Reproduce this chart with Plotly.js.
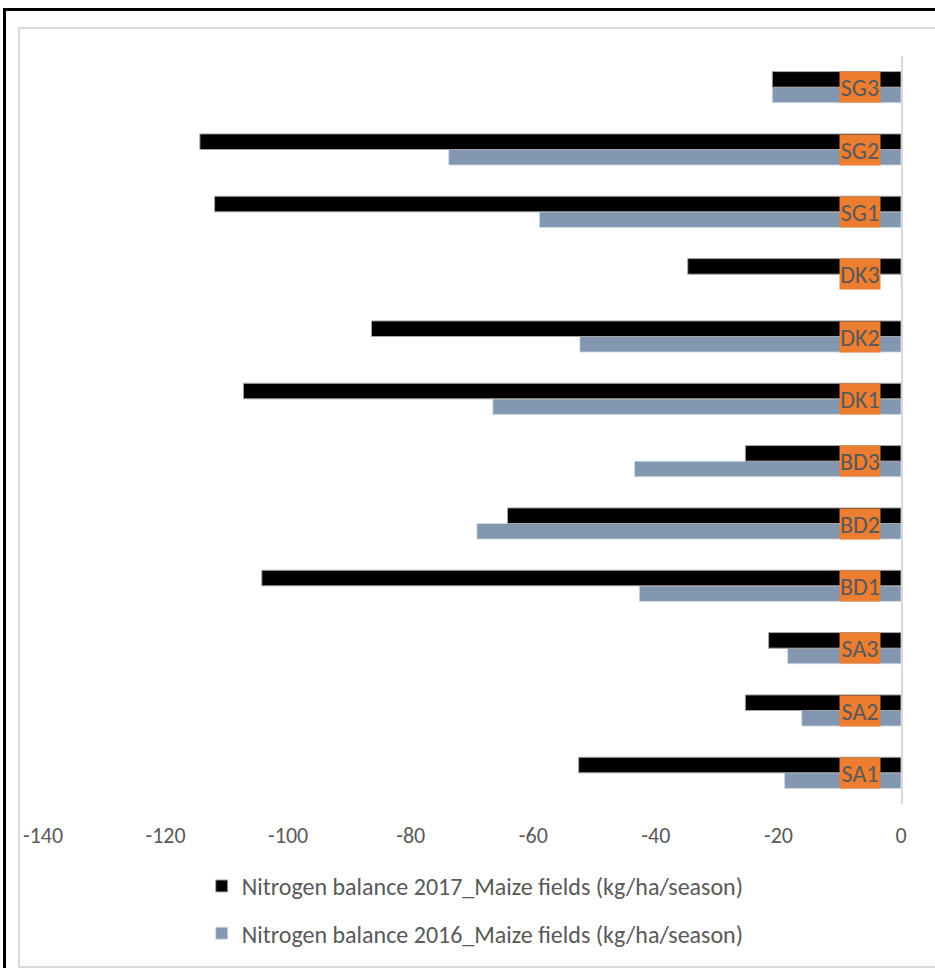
<!DOCTYPE html>
<html>
<head>
<meta charset="utf-8">
<script src="https://cdn.plot.ly/plotly-3.0.1.min.js"></script>
<style>
  html, body { margin: 0; padding: 0; background: #ffffff; overflow: hidden; }
  #outer { position: absolute; left: 3px; top: 8px; width: 1000px; height: 1000px; border: 3px solid #000; box-sizing: border-box; }
  #inner { position: absolute; left: 18px; top: 27px; width: 1000px; height: 941px; border: 2px solid #d9d9d9; box-sizing: border-box; }
  #chart { position: absolute; left: 0; top: 0; width: 935px; height: 968px; }
</style>
</head>
<body>
<div id="outer"></div>
<div id="inner"></div>
<div id="chart"></div>
<script>
const categories = ["SA1", "SA2", "SA3", "BD1", "BD2", "BD3", "DK1", "DK2", "DK3", "SG1", "SG2", "SG3"];
const balance2017 = [-52.6, -25.4, -21.6, -104.3, -64.2, -25.4, -107.3, -86.4, -34.8, -112.0, -114.4, -21.0];
const balance2016 = [-19.0, -16.2, -18.5, -42.7, -69.2, -43.5, -66.6, -52.4, 0, -59.0, -73.8, -21.0];
const seriesNames = ["Nitrogen balance 2017_Maize fields (kg/ha/season)", "Nitrogen balance 2016_Maize fields (kg/ha/season)"];
const xTicks = [-140, -120, -100, -80, -60, -40, -20, 0];
const labelX = -6.7;

const fontFam = "Carlito, Calibri, 'Liberation Sans', Arial, sans-serif";

const traces = [
  {
    type: "bar", orientation: "h", name: seriesNames[1],
    y: categories, x: balance2016,
    marker: { color: "#8497B0", line: { color: "#d6dce4", width: 0.8 } },
    legendgroup: "g2016", legendrank: 2, hoverinfo: "x+y"
  },
  {
    type: "bar", orientation: "h", name: seriesNames[0],
    y: categories, x: balance2017,
    marker: { color: "#000000", line: { color: "#a6a6a6", width: 1 } },
    legendgroup: "g2017", legendrank: 1, hoverinfo: "x+y"
  }
];

const annotations = categories.map(c => ({
  x: labelX, y: c, xref: "x", yref: "y",
  text: c, showarrow: false,
  bgcolor: "#ED7D31", width: 40, height: 30, borderpad: 0,
  font: { family: fontFam, size: 24, color: "#595959" },
  xanchor: "center", yanchor: "middle"
}));

const layout = {
  width: 935, height: 968,
  margin: { l: 43, r: 34, t: 56, b: 164 },
  paper_bgcolor: "rgba(0,0,0,0)",
  plot_bgcolor: "rgba(0,0,0,0)",
  barmode: "group", bargap: 0.5, bargroupgap: 0,
  showlegend: true,
  legend: {
    orientation: "v", traceorder: "grouped", tracegroupgap: 13,
    x: 0.185, xanchor: "left", y: -0.08, yanchor: "top",
    font: { family: fontFam, size: 24, color: "#595959" },
    itemwidth: 30, bgcolor: "rgba(0,0,0,0)"
  },
  xaxis: {
    range: [-140, 0], tickvals: xTicks, ticktext: xTicks.map(String),
    showgrid: false, zeroline: false, showline: false, ticks: "",
    tickfont: { family: fontFam, size: 22, color: "#595959" },
    ticklabelstandoff: 16, fixedrange: true
  },
  yaxis: {
    type: "category", categoryorder: "array", categoryarray: categories,
    side: "right", showline: true, linecolor: "#d9d9d9", linewidth: 2,
    showticklabels: false, ticks: "", showgrid: false, zeroline: false, fixedrange: true
  },
  annotations: annotations
};

Plotly.newPlot("chart", traces, layout, { displayModeBar: false, staticPlot: true });
</script>
</body>
</html>
